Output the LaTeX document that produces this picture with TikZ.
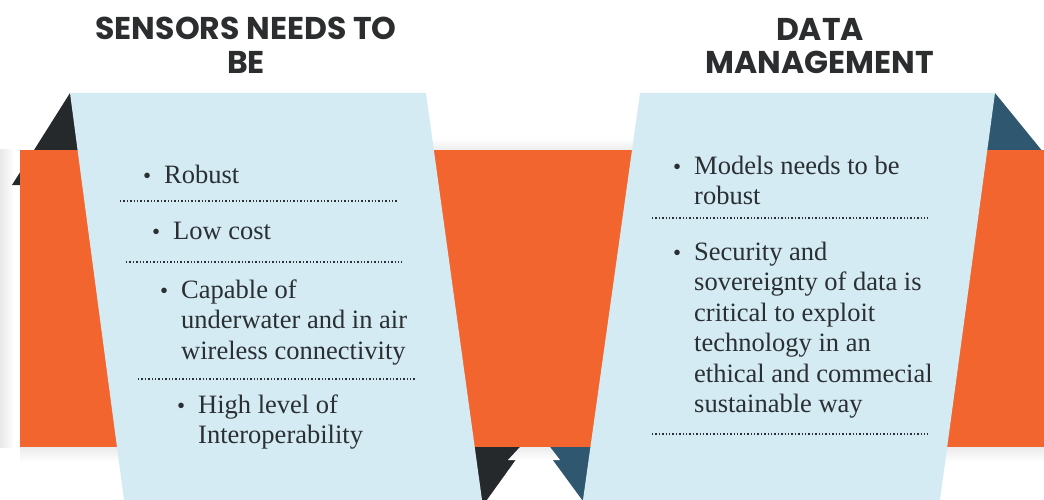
\documentclass[tikz,border=0pt]{standalone}
\usepackage{fontspec}
\setmainfont{Liberation Serif}
\newfontfamily\titlefont{Poppins}
\usetikzlibrary{calc}
\definecolor{orangeband}{HTML}{F3652F}
\definecolor{panelblue}{HTML}{D4EBF3}
\definecolor{darkfold}{HTML}{26292C}
\definecolor{steelfold}{HTML}{2F5870}
\definecolor{txt}{HTML}{2A2F33}
\definecolor{titlecol}{HTML}{2B2D2F}
\tikzset{
  body/.style={anchor=base west, inner sep=0pt, text=txt, font=\fontsize{26.5}{30}\selectfont},
  bul/.style={anchor=base west, inner sep=0pt, text=txt, font=\fontsize{23}{23}\selectfont},
  title/.style={anchor=base, inner sep=0pt, text=titlecol, font=\titlefont\bfseries\fontsize{31.5}{33}\selectfont},
  sep/.style={draw=txt, line width=1.6pt, dash pattern=on 1.3pt off 2.1pt},
}
\begin{document}
\begin{tikzpicture}[x=1pt,y=-1pt]
\useasboundingbox (0,0) rectangle (1044,500);
\clip (0,0) rectangle (1044,500);
% soft shadows
\shade[left color=gray!18, right color=white] (0,150) rectangle (14,447);
\shade[top color=white, bottom color=gray!14] (430,138) rectangle (640,150);
\shade[top color=gray!16, bottom color=white] (20,447) rectangle (1044,462);
% folds
\fill[darkfold] (70,93) -- (12,185) -- (110,185) -- cycle;
\fill[steelfold] (995,93) -- (1070,185) -- (950,185) -- cycle;
\fill[darkfold] (465,447) rectangle (534,500);
\fill[steelfold] (534,447) rectangle (605,500);
\fill[white] (534,434.6) -- (487,500) -- (582,500) -- cycle;
\shade[top color=gray!15, bottom color=white] (520,447) -- (550,447) -- (560,460) -- (508,460) -- cycle;
% band
\fill[orangeband] (20,150) rectangle (1044,447);
% panels
\fill[panelblue] (70,93) -- (426,93) -- (482,500) -- (124,500) -- cycle;
\fill[panelblue] (640,93) -- (995,93) -- (940,500) -- (583,500) -- cycle;
% titles
\node[title] (t1a) at (246,40) {SENSORS NEEDS TO};
\node[title] (t1b) at (246,74) {BE};
\node[title] (t2a) at (820,41) {DATA};
\node[title] (t2b) at (820,74) {MANAGEMENT};
% left panel
\node[bul] (b1) at (143,183) {•};
\node[body] (l1) at (164,183) {Robust};
\draw[sep] (120,201) coordinate (s1a) -- (397,201) coordinate (s1b);
\node[bul] (b2) at (152,239) {•};
\node[body] (l2) at (173,239) {Low cost};
\draw[sep] (126,262) coordinate (s2a) -- (402,262) coordinate (s2b);
\node[bul] (b3) at (160,298) {•};
\node[body] (l3a) at (181,298) {Capable of};
\node[body] (l3b) at (181,328.5) {underwater and in air};
\node[body] (l3c) at (181,359) {wireless connectivity};
\draw[sep] (138,379) coordinate (s3a) -- (415,379) coordinate (s3b);
\node[bul] (b4) at (177,413) {•};
\node[body] (l4a) at (198,413) {High level of};
\node[body] (l4b) at (198,443.5) {Interoperability};
% right panel
\node[bul] (r1) at (673,174) {•};
\node[body] (m1a) at (694,174) {Models needs to be};
\node[body] (m1b) at (694,204.5) {robust};
\draw[sep] (652,218) coordinate (s4a) -- (928,218) coordinate (s4b);
\node[bul] (r2) at (673,260) {•};
\node[body] (m2a) at (694,260) {Security and};
\node[body] (m2b) at (694,290.5) {sovereignty of data is};
\node[body] (m2c) at (694,321) {critical to exploit};
\node[body] (m2d) at (694,351.5) {technology in an};
\node[body] (m2e) at (694,382) {ethical and commecial};
\node[body] (m2f) at (694,412.5) {sustainable way};
\draw[sep] (652,434) coordinate (s5a) -- (928,434) coordinate (s5b);
\end{tikzpicture}
\end{document}
